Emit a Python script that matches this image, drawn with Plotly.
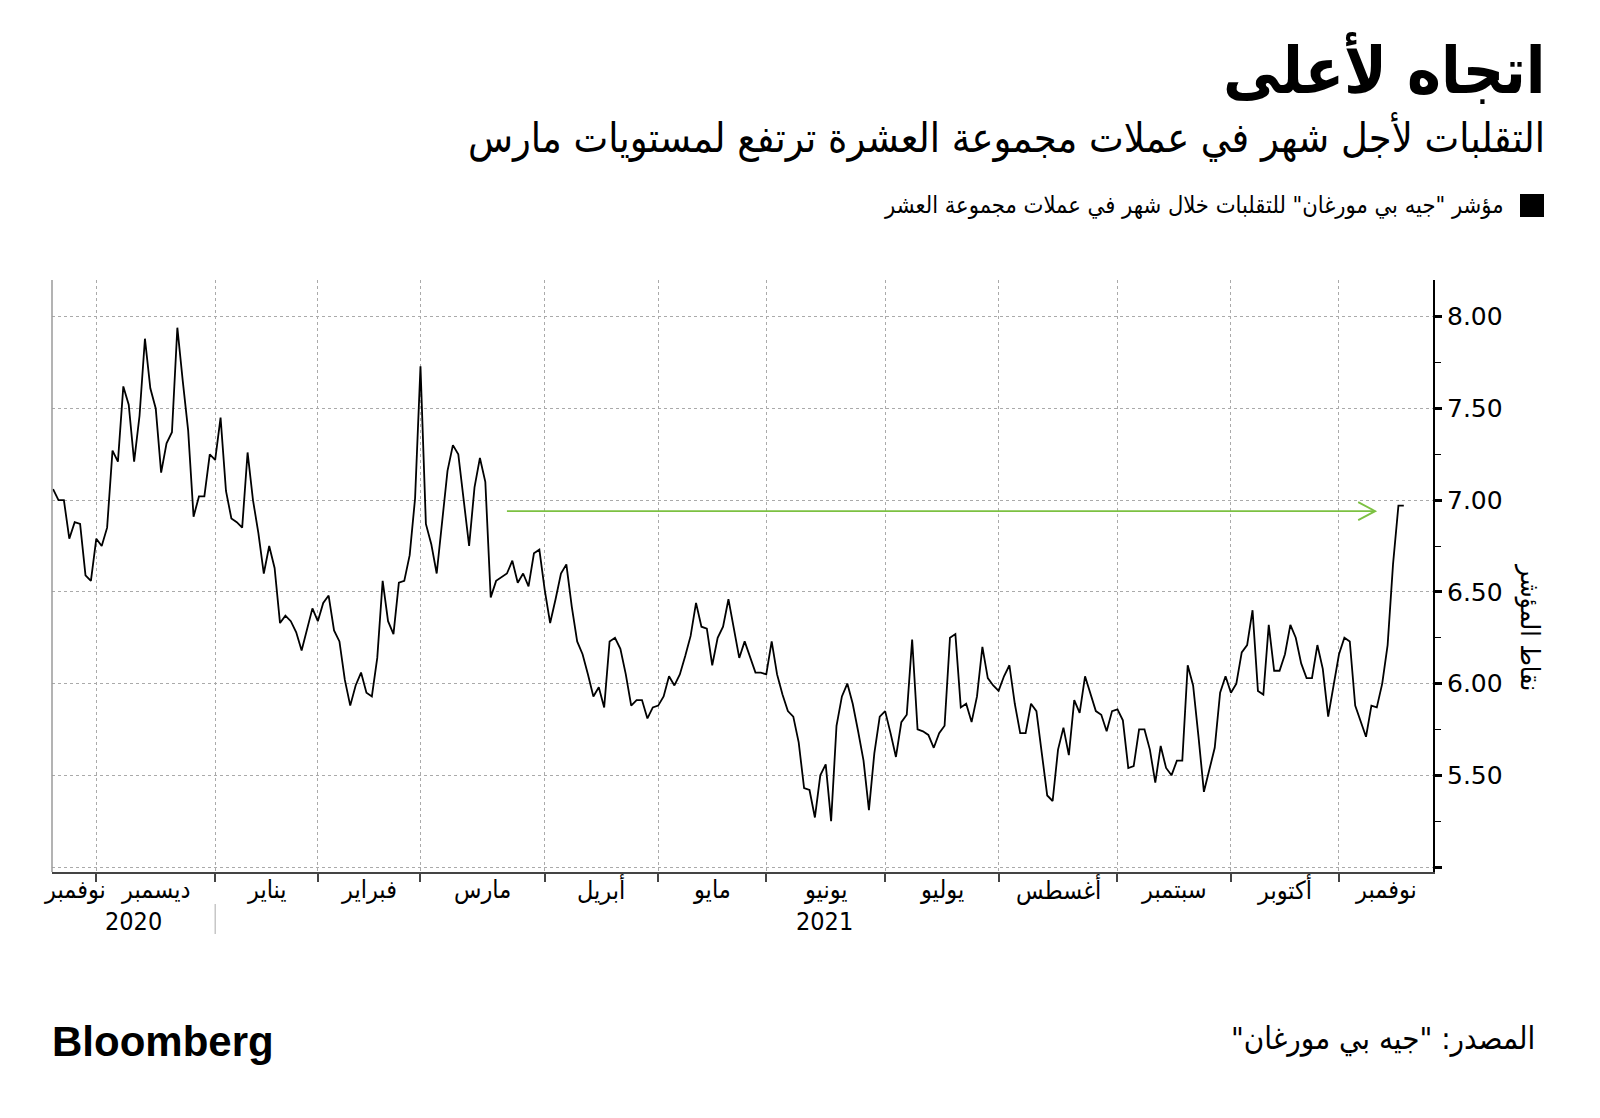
import numpy as np
import pandas as pd
import plotly.graph_objects as go

# ---------------- data ----------------
START_DATE = "2020-11-18"
HOLIDAYS = ["2020-11-26", "2020-12-25", "2021-01-01", "2021-01-18", "2021-02-15",
            "2021-04-02", "2021-05-31", "2021-07-05", "2021-09-06", "2021-10-11",
            "2021-11-11"]

VOL_INDEX = [
    7.06, 7.00, 7.00, 6.79, 6.88, 6.87, 6.59, 6.56, 6.79, 6.75,
    6.85, 7.27, 7.21, 7.62, 7.52, 7.21, 7.46, 7.88, 7.61, 7.50,
    7.15, 7.31, 7.37, 7.94, 7.65, 7.38, 6.91, 7.02, 7.02, 7.25,
    7.22, 7.45, 7.05, 6.90, 6.88, 6.85, 7.26, 7.00, 6.82, 6.60,
    6.75, 6.63, 6.33, 6.37, 6.34, 6.28, 6.18, 6.30, 6.41, 6.34,
    6.44, 6.48, 6.29, 6.23, 6.02, 5.88, 5.99, 6.06, 5.95, 5.93,
    6.14, 6.56, 6.34, 6.27, 6.55, 6.56, 6.70, 7.01, 7.73, 6.87,
    6.76, 6.60, 6.87, 7.16, 7.30, 7.25, 7.00, 6.75, 7.07, 7.23,
    7.10, 6.47, 6.56, 6.58, 6.60, 6.67, 6.55, 6.60, 6.53, 6.71,
    6.73, 6.51, 6.33, 6.46, 6.60, 6.65, 6.42, 6.23, 6.16, 6.05,
    5.93, 5.98, 5.87, 6.23, 6.25, 6.19, 6.05, 5.88, 5.91, 5.91,
    5.81, 5.87, 5.88, 5.93, 6.04, 5.99, 6.05, 6.15, 6.26, 6.44,
    6.31, 6.30, 6.10, 6.25, 6.31, 6.46, 6.29, 6.14, 6.23, 6.15,
    6.06, 6.06, 6.05, 6.23, 6.05, 5.94, 5.85, 5.82, 5.68, 5.43,
    5.42, 5.27, 5.50, 5.56, 5.25, 5.77, 5.93, 6.00, 5.89, 5.74,
    5.58, 5.31, 5.62, 5.82, 5.85, 5.73, 5.60, 5.79, 5.83, 6.24,
    5.75, 5.74, 5.72, 5.65, 5.73, 5.77, 6.25, 6.27, 5.87, 5.89,
    5.79, 5.93, 6.20, 6.03, 5.99, 5.96, 6.04, 6.10, 5.89, 5.73,
    5.73, 5.89, 5.85, 5.62, 5.39, 5.36, 5.64, 5.76, 5.61, 5.91,
    5.84, 6.04, 5.95, 5.85, 5.83, 5.74, 5.85, 5.86, 5.80, 5.54,
    5.55, 5.75, 5.75, 5.64, 5.46, 5.66, 5.54, 5.50, 5.58, 5.58,
    6.10, 5.99, 5.71, 5.41, 5.53, 5.65, 5.95, 6.04, 5.95, 6.00,
    6.17, 6.21, 6.40, 5.96, 5.94, 6.32, 6.07, 6.07, 6.16, 6.32,
    6.25, 6.11, 6.03, 6.03, 6.21, 6.08, 5.82, 6.00, 6.16, 6.25,
    6.23, 5.88, 5.79, 5.71, 5.88, 5.87, 6.00, 6.21, 6.65, 6.97,
    6.97,
]

MONTH_NAMES_AR = {1: "يناير", 2: "فبراير", 3: "مارس", 4: "أبريل", 5: "مايو", 6: "يونيو",
                  7: "يوليو", 8: "أغسطس", 9: "سبتمبر", 10: "أكتوبر", 11: "نوفمبر", 12: "ديسمبر"}

Y_TICKS = [5.0, 5.5, 6.0, 6.5, 7.0, 7.5, 8.0]
Y_TICK_TEXT = ["", "5.50", "6.00", "6.50", "7.00", "7.50", "8.00"]
Y_MINOR = [5.25, 5.75, 6.25, 6.75, 7.25, 7.75]

# annotation arrow: March level reached again
ARROW_LEVEL = 6.94
ARROW_START_IDX = 84
ARROW_END_IDX = 244.7

RLM = "\u200f"
TITLE = "اتجاه لأعلى"
SUBTITLE = "التقلبات لأجل شهر في عملات مجموعة العشرة ترتفع لمستويات مارس"
LEGEND_TEXT = "مؤشر \"جيه بي مورغان\" للتقلبات خلال شهر في عملات مجموعة العشر"
Y_TITLE = "نقاط المؤشر"
SOURCE = RLM + "المصدر: \"جيه بي مورغان\"" + RLM

# ---------------- derived ----------------
dates = pd.bdate_range(START_DATE, periods=len(VOL_INDEX), freq="C", holidays=HOLIDAYS)
x = np.arange(len(dates))
X_RANGE = [-0.2, 255.4]

month_start_idx = [0] + [i for i in range(1, len(dates)) if dates[i].month != dates[i - 1].month]
grid_idx = month_start_idx[1:]
bounds = [max(X_RANGE[0], month_start_idx[0])] + grid_idx + [X_RANGE[1]]
label_pos = [(bounds[k] + bounds[k + 1]) / 2 for k in range(len(month_start_idx))]
label_txt = [MONTH_NAMES_AR[dates[i].month] for i in month_start_idx]

year_change = [i for i in grid_idx if dates[i].year != dates[i - 1].year][0]

# ---------------- layout geometry ----------------
W, H = 1600, 1118
ML, MR, MT, MB = 52, 167, 280, 246
PW, PH = W - ML - MR, H - MT - MB


def px_x(px):
    return (px - ML) / PW


def px_y(py):
    return (H - MB - py) / PH


AR_FONT = "DejaVu Sans Condensed, DejaVu Sans"
GREEN = "#7cc142"

fig = go.Figure()
fig.add_trace(go.Scatter(x=x, y=VOL_INDEX, mode="lines",
                         line=dict(color="black", width=1.8),
                         showlegend=False, hoverinfo="skip"))

fig.update_layout(
    width=W, height=H,
    margin=dict(l=ML, r=MR, t=MT, b=MB),
    paper_bgcolor="white", plot_bgcolor="white",
    font=dict(family=AR_FONT, color="black"),
    showlegend=False,
)

fig.update_xaxes(
    range=X_RANGE,
    tickmode="array", tickvals=grid_idx, showticklabels=False,
    ticks="outside", ticklen=8, tickwidth=1.5, tickcolor="#444",
    showgrid=True, gridcolor="#aaaaaa", griddash="dot", gridwidth=1,
    zeroline=False, showline=True, linecolor="#444", linewidth=2,
)

fig.update_yaxes(
    range=[4.973, 8.2], side="right",
    tickmode="array", tickvals=Y_TICKS, ticktext=Y_TICK_TEXT,
    ticks="outside", ticklen=7, tickwidth=3, tickcolor="black",
    tickfont=dict(size=25, family="DejaVu Sans", color="black"),
    showgrid=True, gridcolor="#aaaaaa", griddash="dot", gridwidth=1,
    zeroline=False, showline=True, linecolor="black", linewidth=2,
    minor=dict(tickmode="array", tickvals=Y_MINOR, ticks="outside", ticklen=6,
               tickwidth=1, tickcolor="black", showgrid=False),
)

shapes = [
    # left frame line
    dict(type="line", xref="paper", yref="paper", x0=0, x1=0, y0=0, y1=1,
         line=dict(color="#9a9a9a", width=1.5)),
    # year separator
    dict(type="line", xref="x", yref="paper", x0=year_change, x1=year_change,
         y0=px_y(904), y1=px_y(934), line=dict(color="#aaaaaa", width=1)),
    # legend square
    dict(type="rect", xref="paper", yref="paper", x0=px_x(1520), x1=px_x(1544),
         y0=px_y(217), y1=px_y(194), fillcolor="black", line=dict(width=0)),
    # arrow shaft
    dict(type="line", xref="x", yref="y", x0=ARROW_START_IDX, x1=ARROW_END_IDX,
         y0=ARROW_LEVEL, y1=ARROW_LEVEL, line=dict(color=GREEN, width=1.8)),
    # arrow head (open chevron)
    dict(type="path", xref="x", yref="y", xsizemode="pixel", ysizemode="pixel",
         xanchor=ARROW_END_IDX, yanchor=ARROW_LEVEL,
         path="M-17,9 L0,0 L-17,-9", line=dict(color=GREEN, width=1.8)),
]
fig.update_layout(shapes=shapes)

annotations = [
    dict(text=TITLE, x=px_x(1547), y=px_y(70), xanchor="right", yanchor="middle",
         font=dict(size=64, family=AR_FONT, weight=700)),
    dict(text=SUBTITLE, x=px_x(1547), y=px_y(137), xanchor="right", yanchor="middle",
         font=dict(size=41, family=AR_FONT)),
    dict(text=LEGEND_TEXT, x=px_x(1506), y=px_y(205), xanchor="right", yanchor="middle",
         font=dict(size=23.5, family=AR_FONT)),
    dict(text=Y_TITLE, x=px_x(1530), y=px_y(627), xanchor="center", yanchor="middle",
         textangle=90, font=dict(size=26, family=AR_FONT)),
    dict(text=str(dates[0].year), xref="x", x=(X_RANGE[0] + year_change) / 2, y=px_y(921),
         xanchor="center", yanchor="middle", font=dict(size=25, family=AR_FONT)),
    dict(text=str(dates[-1].year), xref="x", x=(year_change + X_RANGE[1]) / 2, y=px_y(921),
         xanchor="center", yanchor="middle", font=dict(size=25, family=AR_FONT)),
    dict(text=SOURCE, x=px_x(1537), y=px_y(1038), xanchor="right", yanchor="middle",
         font=dict(size=31, family=AR_FONT)),
    dict(text="Bloomberg", x=px_x(50), y=px_y(1041), xanchor="left", yanchor="middle",
         font=dict(size=42, family="Liberation Sans", weight=700)),
]
for pos, txt in zip(label_pos, label_txt):
    annotations.append(dict(text=txt, xref="x", x=pos, y=px_y(889), xanchor="center",
                            yanchor="middle", font=dict(size=25, family=AR_FONT)))
for a in annotations:
    a.setdefault("xref", "paper")
    a.setdefault("yref", "paper")
    a["showarrow"] = False
fig.update_layout(annotations=annotations)

fig.write_html("out.html")
